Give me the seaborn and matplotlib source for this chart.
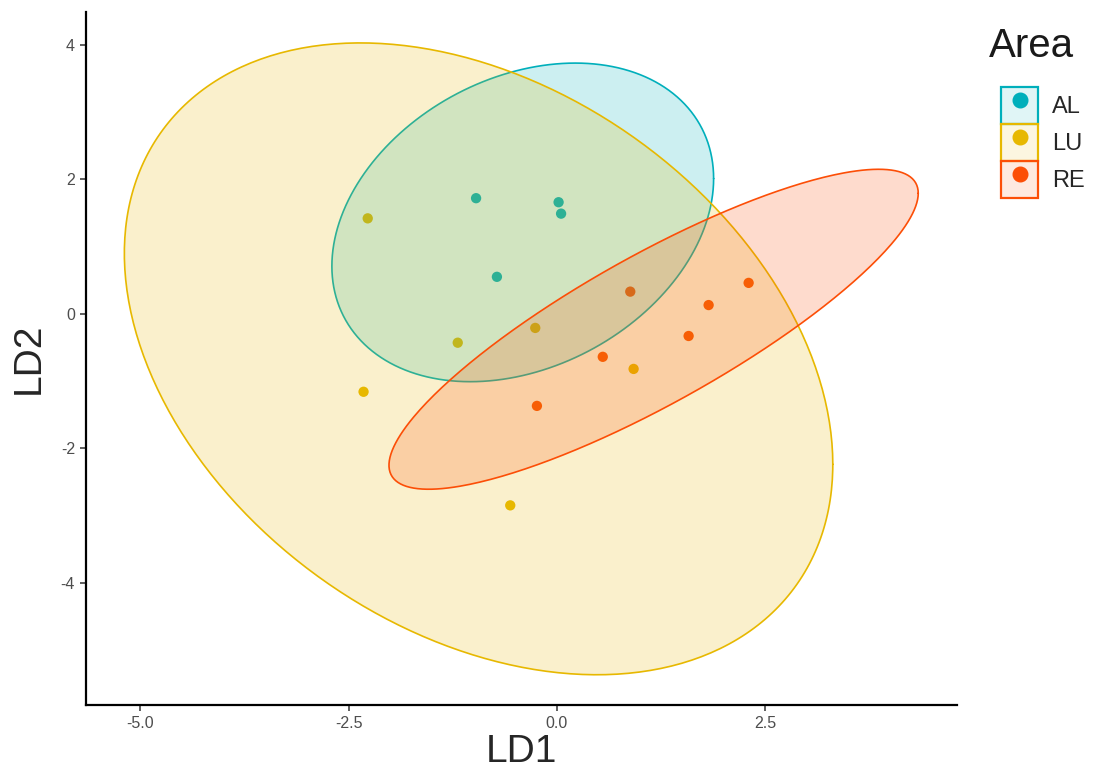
import numpy as np
import pandas as pd
import matplotlib
matplotlib.use("Agg")
import matplotlib.pyplot as plt
import seaborn as sns
from matplotlib.patches import Patch
from matplotlib.lines import Line2D

# ---- data ----
areas = ["AL", "LU", "RE"]
palette = ["#00AFBB", "#E7B800", "#FC4E07"]

al_ld1 = [-0.97, 0.02, 0.05, -0.72]
al_ld2 = [1.72, 1.66, 1.49, 0.55]
lu_ld1 = [-2.27, -1.19, -2.32, -0.26, 0.92, -0.56]
lu_ld2 = [1.42, -0.43, -1.16, -0.21, -0.82, -2.85]
re_ld1 = [0.88, 1.82, 2.30, 1.58, 0.55, -0.24]
re_ld2 = [0.33, 0.13, 0.46, -0.33, -0.64, -1.37]

# ellipse: centre, half-width (LD1), half-height (LD2), correlation
ell_cx = [-0.41, -0.94, 1.16]
ell_cy = [1.36, -0.67, -0.23]
ell_hw = [2.29, 4.25, 3.175]
ell_hh = [2.37, 4.70, 2.38]
ell_r = [0.275, -0.334, 0.85]

xticks = [-5.0, -2.5, 0.0, 2.5]
yticks = [-4, -2, 0, 2, 4]

df = pd.DataFrame({
    "LD1": al_ld1 + lu_ld1 + re_ld1,
    "LD2": al_ld2 + lu_ld2 + re_ld2,
    "Area": ["AL"] * len(al_ld1) + ["LU"] * len(lu_ld1) + ["RE"] * len(re_ld1),
})

sns.set_theme(style="ticks")
plt.rcParams["font.family"] = ["Liberation Sans", "DejaVu Sans"]

fig = plt.figure(figsize=(10.99, 7.73), dpi=100)
ax = fig.add_axes([86 / 1099, 68 / 773, (957 - 86) / 1099, (761 - 68) / 773])

sns.scatterplot(data=df, x="LD1", y="LD2", hue="Area", hue_order=areas,
                palette=palette, s=55, linewidth=0, ax=ax, legend=False, zorder=2)

t = np.linspace(0, 2 * np.pi, 361)
for i, a in enumerate(areas):
    phi = np.arccos(ell_r[i])
    ex = ell_cx[i] + ell_hw[i] * np.cos(t)
    ey = ell_cy[i] + ell_hh[i] * np.cos(t - phi)
    ax.fill(ex, ey, facecolor=palette[i], alpha=0.2, edgecolor="none", zorder=3 + i)
    ax.plot(ex, ey, color=palette[i], lw=1.2, zorder=3 + i)

ax.set_xlim(-5.65, 4.8)
ax.set_ylim(-5.82, 4.49)
ax.set_xticks(xticks)
ax.set_xticklabels([f"{v:.1f}" for v in xticks])
ax.set_yticks(yticks)
ax.set_yticklabels([str(v) for v in yticks])
ax.tick_params(axis="both", labelsize=11.5, labelcolor="#4D4D4D", color="#333333",
               length=4, width=1.1, pad=4)
for s in ["top", "right"]:
    ax.spines[s].set_visible(False)
for s in ["left", "bottom"]:
    ax.spines[s].set_linewidth(1.6)
    ax.spines[s].set_color("black")
ax.set_xlabel("LD1", fontsize=28, labelpad=2)
ax.set_ylabel("LD2", fontsize=28, labelpad=10)

handles = [(Patch(facecolor=c, alpha=0.12, edgecolor="none"),
            Patch(facecolor="none", edgecolor=c, linewidth=1.6),
            Line2D([], [], marker="o", color=c, linestyle="none", markersize=10.5))
           for c in palette]
leg = ax.legend(handles, areas, loc="upper left",
                bbox_to_anchor=(1001 / 1099, 1 - 87 / 773), bbox_transform=fig.transFigure,
                frameon=False, fontsize=17, handlelength=1.57,
                handleheight=2.04, handletextpad=0.6, labelspacing=0.0, borderpad=0,
                borderaxespad=0)
fig.text(989 / 1099, 1 - 57 / 773, "Area", fontsize=29, ha="left", va="baseline",
         color="#1A1A1A")
fig.savefig("out.png", dpi=100)
